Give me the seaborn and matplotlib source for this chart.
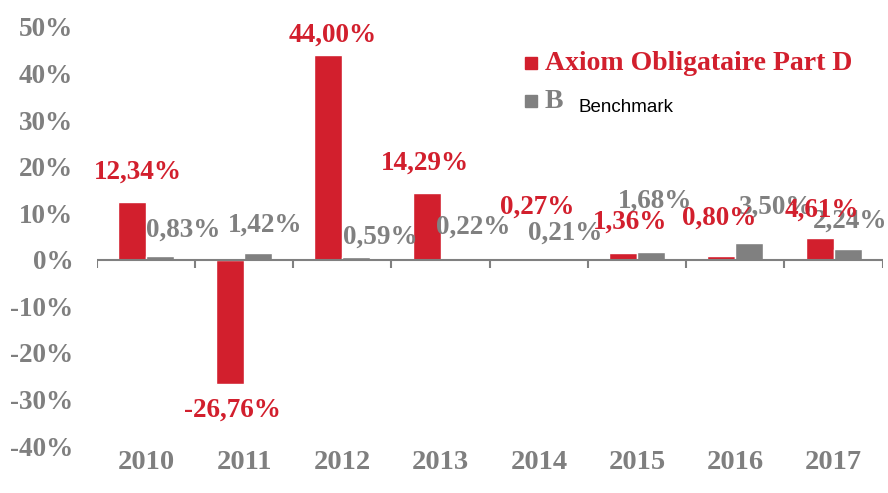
import matplotlib
matplotlib.use("Agg")
import matplotlib.pyplot as plt
from matplotlib.patches import Rectangle
import pandas as pd
import seaborn as sns

# Data
years = ["2010", "2011", "2012", "2013", "2014", "2015", "2016", "2017"]
axiom = [12.34, -26.76, 44.00, 14.29, 0.27, 1.36, 0.80, 4.61]
bench = [0.83, 1.42, 0.59, 0.22, 0.21, 1.68, 3.50, 2.24]
series = ["Axiom Obligataire Part D", "Benchmark"]

# Label placement (layout only, as in the original chart)
red_dx = [-0.08, -0.12, -0.10, -0.16, -0.02, -0.07, -0.16, -0.12]
red_y = [18.9, -32.4, 48.3, 20.8, 11.4, 8.0, 9.0, 10.7]
grey_dx = [0.38, 0.21, 0.39, 0.33, 0.27, 0.18, 0.42, 0.17]
grey_y = [6.4, 7.5, 4.9, 6.9, 5.8, 12.6, 11.2, 8.2]

RED = "#D21F2D"
GREY = "#808080"
SERIF = ["Liberation Serif", "DejaVu Serif"]
FS = 19.5

df = pd.DataFrame({
    "year": years * 2,
    "value": axiom + bench,
    "series": [series[0]] * len(years) + [series[1]] * len(years),
})

sns.set_style("white")
plt.rcParams["font.family"] = SERIF

fig = plt.figure(figsize=(8.88, 4.93), dpi=100)
ax = fig.add_axes([0.109, 0.0953, 0.885, 0.85])

sns.barplot(data=df, x="year", y="value", hue="series",
            palette=[RED, GREY], width=0.57, gap=0, saturation=1,
            legend=False, ax=ax)

ax.set_ylim(-40, 50)
ax.set_xlim(-0.5, 7.5)
ax.set_yticks(range(-40, 51, 10))
ax.set_yticklabels([f"{t}%" for t in range(-40, 51, 10)])
ax.set_xlabel("")
ax.set_ylabel("")
for s in ax.spines.values():
    s.set_visible(False)
ax.tick_params(axis="y", length=0, labelsize=FS, labelcolor="#7F7F7F", pad=17)
ax.tick_params(axis="x", length=0, labelsize=20.5, labelcolor="#7F7F7F", pad=3)
for lbl in ax.get_xticklabels() + ax.get_yticklabels():
    lbl.set_fontweight("bold")

# zero line with category separators
ax.axhline(0, color=GREY, lw=1.5, zorder=3)
ax.vlines([i - 0.5 for i in range(len(years) + 1)], -1.7, 0,
          color=GREY, lw=1.5, zorder=3)

# value labels
fmt = lambda v: f"{v:.2f}%".replace(".", ",")
for i in range(len(years)):
    ax.text(i + grey_dx[i], grey_y[i], fmt(bench[i]), color=GREY,
            fontsize=FS, fontweight="bold", ha="center", va="center")
for i in range(len(years)):
    ax.text(i + red_dx[i], red_y[i], fmt(axiom[i]), color=RED,
            fontsize=FS, fontweight="bold", ha="center", va="center")

# legend drawn by hand to mimic the original
fig.patches.append(Rectangle((525 / 888, 1 - 69 / 493), 12 / 888, 12 / 493,
                             transform=fig.transFigure, color=RED))
fig.patches.append(Rectangle((525 / 888, 1 - 107 / 493), 12 / 888, 12 / 493,
                             transform=fig.transFigure, color=GREY))
fig.text(545 / 888, 1 - 63 / 493, series[0], color=RED, fontsize=20,
         fontweight="bold", va="center", ha="left")
fig.text(545 / 888, 1 - 101 / 493, "B", color=GREY, fontsize=20,
         fontweight="bold", va="center", ha="left")
fig.text(578 / 888, 1 - 108 / 493, series[1], color="black", fontsize=13.5,
         family=["Liberation Sans", "DejaVu Sans"], va="center", ha="left")

fig.savefig("out.png", dpi=100, facecolor="white")
